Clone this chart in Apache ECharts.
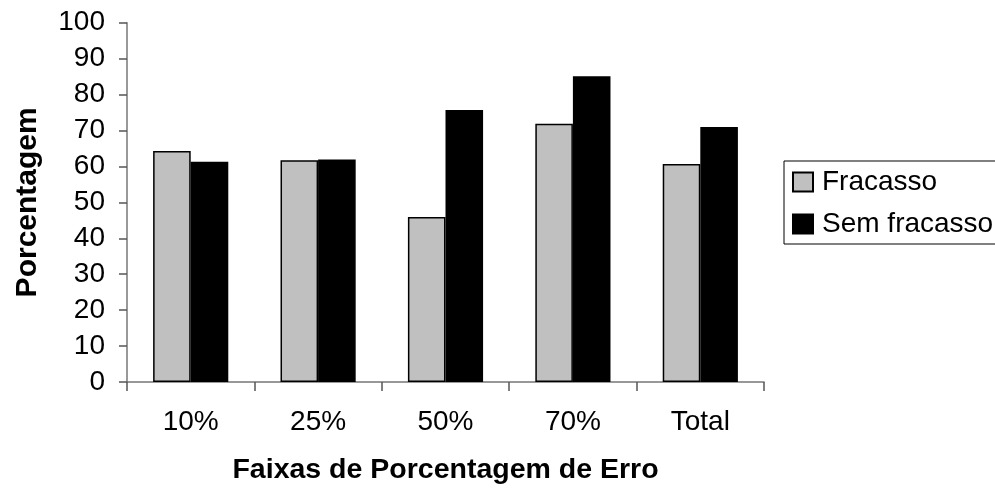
<!DOCTYPE html>
<html>
<head>
<meta charset="utf-8">
<script src="https://cdn.jsdelivr.net/npm/echarts@6/dist/echarts.min.js"></script>
<style>html,body{margin:0;padding:0;background:#fff}#c{width:995px;height:491px}</style>
</head>
<body>
<div id="c"></div>
<script>
const categories = ['10%', '25%', '50%', '70%', 'Total'];
const fracasso = [64.3, 61.7, 45.9, 71.9, 60.7];
const semFracasso = [61.3, 61.9, 75.7, 85.1, 71.0];
const seriesNames = ['Fracasso', 'Sem fracasso'];
const yTitle = 'Porcentagem';
const xTitle = 'Faixas de Porcentagem de Erro';

const FONT = "'Liberation Sans', Arial, sans-serif";
const chart = echarts.init(document.getElementById('c'), null, {renderer: 'canvas'});
chart.setOption({
  animation: false,
  backgroundColor: '#fff',
  textStyle: {fontFamily: FONT},
  grid: {left: 127, right: 231, top: 22.7, bottom: 109, containLabel: false},
  legend: {
    orient: 'vertical',
    left: 784, top: 161,
    padding: [7, 12, 6, 8],
    itemGap: 14,
    itemWidth: 20, itemHeight: 19,
    borderColor: '#000', borderWidth: 1,
    icon: 'rect',
    textStyle: {fontFamily: FONT, fontSize: 28, color: '#000', padding: [0, 0, 0, 4]},
    data: seriesNames
  },
  xAxis: {
    type: 'category',
    data: categories,
    name: xTitle,
    nameLocation: 'middle',
    nameGap: 74,
    nameTextStyle: {fontFamily: FONT, fontSize: 28.5, fontWeight: 'bold', color: '#000'},
    axisLine: {lineStyle: {color: '#777', width: 1.5}},
    axisTick: {show: true, length: 9, lineStyle: {color: '#555', width: 1.5}},
    axisLabel: {fontFamily: FONT, fontSize: 28, color: '#000', margin: 26}
  },
  yAxis: {
    type: 'value',
    min: 0, max: 100, interval: 10,
    name: yTitle,
    nameLocation: 'middle',
    nameGap: 84,
    nameTextStyle: {fontFamily: FONT, fontSize: 30, fontWeight: 'bold', color: '#000'},
    splitLine: {show: false},
    axisLine: {show: true, lineStyle: {color: '#777', width: 1.5}},
    axisTick: {show: true, length: 8, lineStyle: {color: '#555', width: 1.5}},
    axisLabel: {fontFamily: FONT, fontSize: 28, color: '#000', margin: 22}
  },
  series: [
    {
      name: seriesNames[0], type: 'bar', data: fracasso,
      barGap: '0%', barCategoryGap: '41%',
      itemStyle: {color: '#C0C0C0', borderColor: '#000', borderWidth: 1.5}
    },
    {
      name: seriesNames[1], type: 'bar', data: semFracasso,
      barGap: '0%', barCategoryGap: '41%',
      itemStyle: {color: '#000', borderColor: '#000', borderWidth: 1.5}
    }
  ]
});
</script>
</body>
</html>
